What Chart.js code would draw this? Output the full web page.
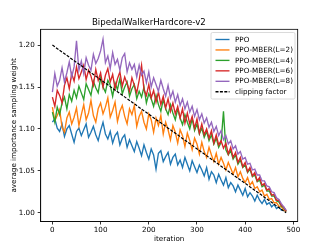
<!DOCTYPE html>
<html>
<head>
<meta charset="utf-8">
<script src="https://cdn.jsdelivr.net/npm/chart.js@4"></script>
<style>
  body { margin: 0; background: #fff; }
  canvas { display: block; }
</style>
</head>
<body>
<canvas id="grafica" width="332" height="249"></canvas>
<script>
// datos (una muestra cada 5 iteraciones, 0..485)
const iteraciones = Array.from({ length: 98 }, (_, i) => i * 5);

const ppo = [
  1.108, 1.112, 1.101, 1.097, 1.106, 1.091, 1.100, 1.104, 1.094, 1.084,
  1.097, 1.101, 1.092, 1.099, 1.106, 1.090, 1.096, 1.103, 1.093, 1.086,
  1.098, 1.108, 1.094, 1.088, 1.097, 1.083, 1.092, 1.096, 1.081, 1.089,
  1.093, 1.078, 1.087, 1.080, 1.073, 1.085, 1.077, 1.068, 1.081, 1.072,
  1.064, 1.076, 1.069, 1.052, 1.071, 1.074, 1.061, 1.067, 1.072, 1.058,
  1.066, 1.070, 1.057, 1.063, 1.054, 1.066, 1.058, 1.050, 1.062, 1.055,
  1.048, 1.057, 1.051, 1.044, 1.054, 1.040, 1.049, 1.045, 1.036, 1.046,
  1.039, 1.033, 1.042, 1.030, 1.036, 1.032, 1.025, 1.033, 1.027, 1.021,
  1.029, 1.019, 1.024, 1.020, 1.014, 1.021, 1.015, 1.011, 1.016, 1.010,
  1.012, 1.007, 1.010, 1.005, 1.007, 1.003, 1.004, 1.001
];

const mberL2 = [
  1.126, 1.110, 1.116, 1.123, 1.102, 1.096, 1.113, 1.120, 1.106, 1.114,
  1.125, 1.104, 1.117, 1.129, 1.111, 1.119, 1.134, 1.116, 1.108, 1.124,
  1.131, 1.118, 1.126, 1.137, 1.114, 1.122, 1.132, 1.109, 1.121, 1.128,
  1.115, 1.106, 1.124, 1.117, 1.128, 1.103, 1.115, 1.121, 1.108, 1.100,
  1.118, 1.111, 1.096, 1.113, 1.104, 1.116, 1.094, 1.108, 1.099, 1.087,
  1.104, 1.096, 1.083, 1.099, 1.092, 1.079, 1.095, 1.086, 1.075, 1.089,
  1.082, 1.070, 1.084, 1.073, 1.066, 1.078, 1.069, 1.061, 1.071, 1.058,
  1.066, 1.059, 1.051, 1.060, 1.053, 1.046, 1.054, 1.043, 1.049, 1.041,
  1.036, 1.042, 1.033, 1.037, 1.029, 1.031, 1.025, 1.027, 1.020, 1.022,
  1.016, 1.017, 1.012, 1.012, 1.008, 1.007, 1.004, 1.001
];

const mberL4 = [
  1.120, 1.108, 1.126, 1.117, 1.131, 1.138, 1.124, 1.141, 1.133, 1.146,
  1.137, 1.151, 1.143, 1.135, 1.154, 1.147, 1.140, 1.157, 1.149, 1.143,
  1.161, 1.150, 1.144, 1.158, 1.152, 1.139, 1.155, 1.147, 1.160, 1.142,
  1.150, 1.156, 1.139, 1.148, 1.153, 1.136, 1.145, 1.138, 1.150, 1.131,
  1.142, 1.136, 1.127, 1.140, 1.129, 1.121, 1.135, 1.124, 1.117, 1.129,
  1.119, 1.111, 1.124, 1.113, 1.105, 1.117, 1.108, 1.100, 1.112, 1.098,
  1.106, 1.094, 1.101, 1.090, 1.097, 1.086, 1.093, 1.082, 1.089, 1.078,
  1.084, 1.121, 1.075, 1.069, 1.074, 1.064, 1.069, 1.058, 1.063, 1.054,
  1.057, 1.048, 1.052, 1.043, 1.045, 1.037, 1.039, 1.031, 1.033, 1.026,
  1.026, 1.020, 1.020, 1.014, 1.013, 1.008, 1.006, 1.002
];

const mberL6 = [
  1.138, 1.127, 1.146, 1.140, 1.131, 1.152, 1.161, 1.148, 1.166, 1.157,
  1.174, 1.160, 1.168, 1.176, 1.159, 1.170, 1.163, 1.152, 1.171, 1.158,
  1.167, 1.150, 1.164, 1.172, 1.156, 1.165, 1.148, 1.160, 1.168, 1.151,
  1.162, 1.154, 1.145, 1.161, 1.152, 1.143, 1.158, 1.176, 1.147, 1.140,
  1.153, 1.137, 1.146, 1.132, 1.144, 1.129, 1.139, 1.125, 1.136, 1.121,
  1.131, 1.118, 1.127, 1.113, 1.124, 1.107, 1.119, 1.106, 1.115, 1.101,
  1.112, 1.095, 1.106, 1.093, 1.100, 1.089, 1.098, 1.083, 1.093, 1.081,
  1.086, 1.077, 1.083, 1.070, 1.078, 1.066, 1.072, 1.060, 1.066, 1.055,
  1.060, 1.049, 1.054, 1.044, 1.048, 1.038, 1.042, 1.033, 1.035, 1.027,
  1.029, 1.021, 1.022, 1.015, 1.015, 1.009, 1.007, 1.002
];

const mberL8 = [
  1.144, 1.166, 1.151, 1.158, 1.173, 1.156, 1.167, 1.180, 1.162, 1.174,
  1.205, 1.170, 1.181, 1.166, 1.185, 1.176, 1.170, 1.189, 1.178, 1.184,
  1.193, 1.207, 1.179, 1.187, 1.172, 1.191, 1.177, 1.183, 1.170, 1.185,
  1.190, 1.168, 1.179, 1.171, 1.177, 1.162, 1.176, 1.164, 1.169, 1.155,
  1.168, 1.150, 1.161, 1.153, 1.145, 1.158, 1.148, 1.139, 1.152, 1.137,
  1.145, 1.132, 1.141, 1.128, 1.136, 1.124, 1.132, 1.120, 1.127, 1.115,
  1.123, 1.111, 1.118, 1.107, 1.113, 1.102, 1.108, 1.097, 1.103, 1.092,
  1.098, 1.087, 1.092, 1.082, 1.086, 1.076, 1.080, 1.070, 1.073, 1.064,
  1.066, 1.058, 1.059, 1.051, 1.052, 1.045, 1.045, 1.038, 1.038, 1.032,
  1.031, 1.025, 1.024, 1.018, 1.016, 1.011, 1.007, 1.003
];

// factor de recorte: recta de 1.2 a 1.0
const clipX = [0, 485];
const clipY = [1.20, 1.00];

const xTicks = [0, 100, 200, 300, 400, 500];
const yTicks = [1.00, 1.05, 1.10, 1.15, 1.20];

const fuente = 'DejaVu Sans';

function puntos(xs, ys) {
  return xs.map((x, i) => ({ x: x, y: ys[i] }));
}

const series = [
  { nombre: 'PPO', valores: ppo, color: '#1f77b4' },
  { nombre: 'PPO-MBER(L=2)', valores: mberL2, color: '#ff7f0e' },
  { nombre: 'PPO-MBER(L=4)', valores: mberL4, color: '#2ca02c' },
  { nombre: 'PPO-MBER(L=6)', valores: mberL6, color: '#d62728' },
  { nombre: 'PPO-MBER(L=8)', valores: mberL8, color: '#9467bd' }
];

const datasets = series.map((s, i) => ({
  label: s.nombre,
  data: puntos(iteraciones, s.valores),
  borderColor: s.color,
  backgroundColor: s.color,
  borderWidth: 1.35,
  pointRadius: 0,
  tension: 0,
  fill: false,
  order: 10 - i
}));

datasets.push({
  label: 'clipping factor',
  data: puntos(clipX, clipY),
  borderColor: '#000',
  backgroundColor: '#000',
  borderWidth: 1.2,
  borderDash: [3, 1.4],
  pointRadius: 0,
  fill: false,
  order: 0
});

// marco completo de los ejes (estilo matplotlib)
const marco = {
  id: 'marco',
  afterDatasetsDraw(chart) {
    const { ctx, chartArea: a } = chart;
    ctx.save();
    ctx.strokeStyle = '#000';
    ctx.lineWidth = 0.8;
    ctx.strokeRect(a.left, a.top, a.right - a.left, a.bottom - a.top);
    ctx.restore();
  }
};

// leyenda dentro del area, arriba a la derecha
const leyenda = {
  id: 'leyenda',
  afterDraw(chart) {
    const ctx = chart.ctx;
    const x0 = 211, y0 = 32.5, w = 84, h = 66.5;
    ctx.save();
    ctx.fillStyle = 'rgba(255,255,255,0.85)';
    ctx.strokeStyle = '#d0d0d0';
    ctx.lineWidth = 0.8;
    ctx.beginPath();
    ctx.roundRect(x0, y0, w, h, 1.5);
    ctx.fill();
    ctx.stroke();

    const entradas = series.map(s => ({ nombre: s.nombre, color: s.color, dash: [] }));
    entradas.push({ nombre: 'clipping factor', color: '#000', dash: [3, 1.4] });

    ctx.font = '7.2px "' + fuente + '"';
    ctx.textBaseline = 'middle';
    entradas.forEach((e, i) => {
      const y = 39.5 + i * 10.45;
      ctx.strokeStyle = e.color;
      ctx.lineWidth = 1.35;
      ctx.setLineDash(e.dash);
      ctx.beginPath();
      ctx.moveTo(215.5, y);
      ctx.lineTo(229.5, y);
      ctx.stroke();
      ctx.setLineDash([]);
      ctx.fillStyle = '#000';
      ctx.fillText(e.nombre, 235, y + 0.3);
    });
    ctx.restore();
  }
};

new Chart(document.getElementById('grafica').getContext('2d'), {
  type: 'line',
  data: { datasets: datasets },
  plugins: [marco, leyenda],
  options: {
    responsive: false,
    animation: false,
    devicePixelRatio: 1,
    layout: { padding: { left: 0, right: 34.3, top: 0, bottom: 0 } },
    plugins: {
      legend: { display: false },
      tooltip: { enabled: false },
      title: {
        display: true,
        text: 'BipedalWalkerHardcore-v2',
        color: '#000',
        font: { family: fuente, size: 8.6, weight: 'normal' },
        padding: { top: 18, bottom: 1 }
      }
    },
    scales: {
      x: {
        type: 'linear',
        min: -24.3,
        max: 509,
        afterBuildTicks: escala => { escala.ticks = xTicks.map(v => ({ value: v })); },
        afterFit: escala => { escala.height = 27.5; },
        ticks: {
          color: '#000',
          padding: 1,
          maxRotation: 0,
          font: { family: fuente, size: 7.2 },
          callback: v => String(v)
        },
        grid: { drawOnChartArea: false, tickLength: 3, color: '#000', lineWidth: 0.8 },
        border: { display: true, color: '#000', width: 0.8 },
        title: {
          display: true,
          text: 'iteration',
          color: '#000',
          font: { family: fuente, size: 7.2 },
          padding: { top: 0, bottom: 5.7 }
        }
      },
      y: {
        type: 'linear',
        min: 0.9896,
        max: 1.2188,
        afterBuildTicks: escala => { escala.ticks = yTicks.map(v => ({ value: v })); },
        afterFit: escala => { escala.width = 40.7; },
        ticks: {
          color: '#000',
          padding: 3,
          font: { family: fuente, size: 7.2 },
          callback: v => v.toFixed(2)
        },
        grid: { drawOnChartArea: false, tickLength: 3, color: '#000', lineWidth: 0.8 },
        border: { display: true, color: '#000', width: 0.8 },
        title: {
          display: true,
          text: 'average importance sampling weight',
          color: '#000',
          font: { family: fuente, size: 7.2 },
          padding: { top: 9.7, bottom: 0 }
        }
      }
    }
  }
});
</script>
</body>
</html>
